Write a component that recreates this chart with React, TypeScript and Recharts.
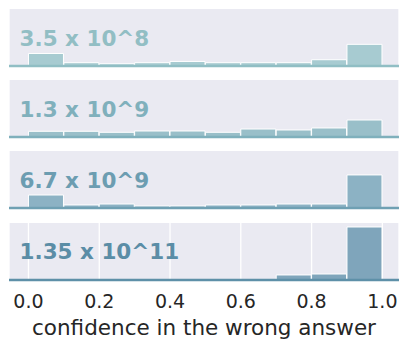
import { ComposedChart, Bar, XAxis, YAxis, CartesianGrid } from 'recharts';

// bin centres of the 10 histogram bins
const binCenters = [0.05, 0.15, 0.25, 0.35, 0.45, 0.55, 0.65, 0.75, 0.85, 0.95];
const xTicks = [0, 0.2, 0.4, 0.6, 0.8, 1.0];

// bar heights per panel
const counts8 = [2.2, 0.58, 0.4, 0.58, 0.8, 0.58, 0.58, 0.58, 1.1, 3.8];
const counts9a = [1.0, 1.0, 0.82, 1.05, 1.05, 0.82, 1.4, 1.23, 1.58, 2.98];
const counts9b = [2.28, 0.53, 0.7, 0.35, 0.35, 0.53, 0.53, 0.7, 0.7, 5.8];
const counts11 = [0.05, 0.05, 0.05, 0.05, 0.05, 0.05, 0.06, 0.88, 1.05, 9.3];

const panelLabels = ['3.5 x 10^8', '1.3 x 10^9', '6.7 x 10^9', '1.35 x 10^11'];
const barColors = ['#a7cbd1', '#99bfc9', '#8cb2c4', '#7fa5bb'];
const lineColors = ['#90bec4', '#7fb0bc', '#6fa0b3', '#5e90a8'];
const textColors = ['#92bec4', '#80b0bc', '#6c9db1', '#5b8da6'];

const allCounts = [counts8, counts9a, counts9b, counts11];

const W = 409;
const PLOT_H = 57;
const LEFT = 9;
const PLOT_W = 390;
const DOMAIN: [number, number] = [-0.055, 1.047];
const TOP0 = 9;
const STEP = 71.2;

function Panel({ idx }: { idx: number }) {
  const data = binCenters.map((x, i) => ({ x, y: allCounts[idx][i] }));
  const last = idx === 3;
  const axisH = last ? 40 : 2;
  return (
    <ComposedChart
      width={W}
      height={PLOT_H + axisH}
      data={data}
      margin={{ top: 0, right: W - LEFT - PLOT_W, bottom: 0, left: LEFT }}
      barCategoryGap={0}
      barGap={0}
    >
      <CartesianGrid horizontal={false} stroke="#ffffff" strokeWidth={1.3} fill="#eaeaf2" fillOpacity={1} />
      <XAxis
        dataKey="x"
        type="number"
        domain={DOMAIN}
        allowDataOverflow
        ticks={xTicks}
        height={axisH}
        axisLine={{ stroke: lineColors[idx], strokeWidth: 2.6 }}
        tickLine={false}
        tickSize={0}
        tickMargin={15}
        tick={last ? { fontSize: 19, fill: '#262626', fontFamily: 'DejaVu Sans' } : false}
        tickFormatter={(v: number) => v.toFixed(1)}
      />
      <YAxis hide domain={[0, 10]} allowDataOverflow />
      <Bar
        dataKey="y"
        fill={barColors[idx]}
        stroke="#ffffff"
        strokeWidth={1}
        isAnimationActive={false}
      />
    </ComposedChart>
  );
}

export default function App() {
  return (
    <div style={{ position: 'absolute', left: 0, top: 0, width: W, height: 348, background: '#fff' }}>
      {panelLabels.map((_, i) => (
        <div key={i} style={{ position: 'absolute', left: 0, top: TOP0 + i * STEP }}>
          <Panel idx={i} />
        </div>
      ))}
      <svg width={W} height={348} style={{ position: 'absolute', left: 0, top: 0, pointerEvents: 'none' }}>
        {panelLabels.map((t, i) => (
          <text
            key={t}
            x={19.5}
            y={TOP0 + i * STEP + PLOT_H - 20.5}
            fontFamily="DejaVu Sans"
            fontWeight="bold"
            fontSize={21.5}
            fill={textColors[i]}
          >
            {t}
          </text>
        ))}
        <text x={204} y={335} textAnchor="middle" fontFamily="DejaVu Sans" fontSize={21.5} fill="#262626">
          confidence in the wrong answer
        </text>
      </svg>
    </div>
  );
}
